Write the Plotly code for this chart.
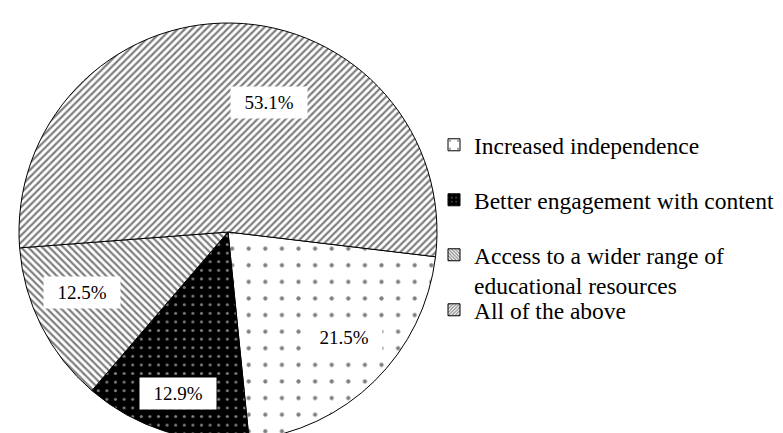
import math
import plotly.graph_objects as go

# ---- data ----
labels = ["Increased independence", "Better engagement with content",
          "Access to a wider range of<br>educational resources", "All of the above"]
values = [21.5, 12.9, 12.5, 53.1]

# ---- style ----
FONT = "Times New Roman, Liberation Serif, serif"
W, H = 783, 433
CX, CY, R = 220, 224, 209          # pie centre / radius in px
ROTATION = 96.8
pat_shape = [".", ".", "\\", "/"]
pat_fg = ["black", "white", "black", "black"]
pat_bg = ["white", "black", "white", "white"]
pat_size = [16.6, 8.6, 5, 5]
pat_solid = [0.05, 0.1, 0.45, 0.45]
label_rfrac = [0.752, 0.807, 0.757, 0.65]
label_shift = [-3.3, -0.2, 4.4, 16.3]
legend_centres = [137, 192, 262.5, 302]

fig = go.Figure()
fig.add_trace(go.Pie(
    labels=labels, values=values, sort=False, direction="clockwise",
    rotation=ROTATION, textinfo="none", showlegend=False, hoverinfo="skip",
    marker=dict(colors=pat_bg,
                pattern=dict(shape=pat_shape, fgcolor=pat_fg, bgcolor=pat_bg,
                             size=pat_size, solidity=pat_solid, fillmode="overlay"),
                line=dict(color="black", width=1)),
    domain=dict(x=[(CX - R) / W, (CX + R) / W], y=[(H - CY - R) / H, (H - CY + R) / H]),
))

# percentage labels in white boxes, placed from the data
total = sum(values)
cum = 0.0
for i, v in enumerate(values):
    mid = ROTATION + 360 * (cum + v / 2) / total + label_shift[i]
    cum += v
    a = math.radians(mid)
    px = CX + R * label_rfrac[i] * math.sin(a)
    py = CY - R * label_rfrac[i] * math.cos(a)
    fig.add_annotation(x=px / W, y=1 - py / H, xref="paper", yref="paper",
                       xanchor="center", yanchor="middle",
                       text=f"{v / total * 100:.1f}%", showarrow=False,
                       bgcolor="white", borderpad=5, width=66,
                       font=dict(family=FONT, size=19, color="black"))

# legend entries (one legend per entry for spacing control)
for i, lab in enumerate(labels):
    lname = "legend" if i == 0 else f"legend{i + 1}"
    fig.add_trace(go.Bar(
        x=[None], y=[None], name=lab, legend=lname, showlegend=True,
        marker=dict(color=pat_bg[i],
                    pattern=dict(shape=pat_shape[i], fgcolor=pat_fg[i], bgcolor=pat_bg[i],
                                 size=pat_size[i] * 0.6, solidity=pat_solid[i], fillmode="overlay"),
                    line=dict(color="black", width=1)),
    ))
    fig.update_layout(**{lname: dict(
        x=426 / W, xanchor="left", y=1 - legend_centres[i] / H, yanchor="middle",
        valign="top", bgcolor="rgba(0,0,0,0)",
        font=dict(family=FONT, size=23.5, color="black"),
    )})

fig.update_layout(
    width=W, height=H, margin=dict(l=0, r=0, t=0, b=0),
    paper_bgcolor="white", plot_bgcolor="white",
    xaxis=dict(visible=False), yaxis=dict(visible=False),
)
fig.write_html("out.html")
